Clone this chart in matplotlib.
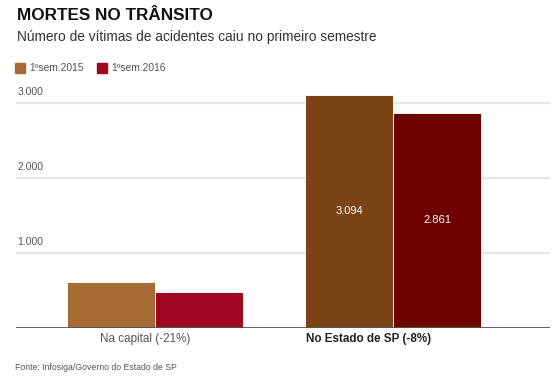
import matplotlib
matplotlib.use("Agg")
import matplotlib.pyplot as plt
from matplotlib.patches import Rectangle
import numpy as np

plt.rcParams['font.family'] = ['Liberation Sans', 'DejaVu Sans']

categories = ["Na capital (-21%)", "No Estado de SP (-8%)"]
series_names = ["1ºsem.2015", "1ºsem.2016"]
values_2015 = [607, 3094]
values_2016 = [473, 2861]
value_labels_2015 = ["", "3.094"]
value_labels_2016 = ["", "2.861"]
yticks = [1000, 2000, 3000]
ytick_labels = ["1.000", "2.000", "3.000"]

colors_2015 = ["#a66a35", "#7a4414"]
colors_2016 = ["#a00620", "#6e0000"]

W, H = 558, 380
fig = plt.figure(figsize=(W / 100, H / 100), dpi=100)

ax_left, ax_right = 15.5, 550
ax_bottom_px, ax_top_px = 327.5, 87.5
ax = fig.add_axes([ax_left / W, 1 - ax_bottom_px / H, (ax_right - ax_left) / W,
                   (ax_bottom_px - ax_top_px) / H])

x = np.arange(len(categories))
bw = 0.37
ax.bar(x - bw / 2, values_2015, width=bw, color=colors_2015, edgecolor="white", linewidth=0.6, zorder=3)
ax.bar(x + bw / 2, values_2016, width=bw, color=colors_2016, edgecolor="white", linewidth=0.6, zorder=3)

for i in range(len(categories)):
    if value_labels_2015[i]:
        ax.text(x[i] - bw / 2, values_2015[i] / 2, value_labels_2015[i], ha="center", va="center",
                color="white", fontsize=8, zorder=4)
    if value_labels_2016[i]:
        ax.text(x[i] + bw / 2, values_2016[i] / 2, value_labels_2016[i], ha="center", va="center",
                color="white", fontsize=8, zorder=4)

ax.set_xlim(-0.588, 1.658)
ax.set_ylim(0, 3200)
for t, lab in zip(yticks, ytick_labels):
    ax.axhline(t, color="#e6e6e6", linewidth=1.6, zorder=1)
    ax.annotate(lab, xy=(0, t), xycoords=("axes fraction", "data"), xytext=(1.5, 4),
                textcoords="offset points", ha="left", va="bottom", fontsize=7.5, color="#555555")
ax.axhline(0, color="#555555", linewidth=1.3, zorder=5)

for s in ax.spines.values():
    s.set_visible(False)
ax.set_xticks([])
ax.set_yticks([])
ax.patch.set_alpha(0)

# category labels
label_shift_px = [-10, -25]
for i, c in enumerate(categories):
    ax.annotate(c, xy=(x[i], 0), xycoords="data", xytext=(label_shift_px[i] * 0.72, -8.5),
                textcoords="offset points", ha="center", va="center", fontsize=8.4,
                color="#555555" if i == 0 else "#222222",
                fontweight="normal" if i == 0 else "bold")

# title & subtitle
fig.text(17 / W, 1 - 15 / H, "MORTES NO TRÂNSITO", fontsize=12.3, fontweight="bold",
         ha="left", va="center", color="#111111")
fig.text(17 / W, 1 - 37 / H, "Número de vítimas de acidentes caiu no primeiro semestre",
         fontsize=9.9, ha="left", va="center", color="#333333")

# legend
leg_x = [15, 97]
for lx, name, col in zip(leg_x, series_names, [colors_2015[0], colors_2016[0]]):
    fig.patches.append(Rectangle((lx / W, 1 - 73 / H), 10 / W, 10 / H, transform=fig.transFigure,
                                 color=col))
    fig.text((lx + 14) / W, 1 - 68 / H, name, fontsize=7.4, ha="left", va="center", color="#555555")

fig.text(15 / W, 1 - 368 / H, "Fonte: Infosiga/Governo do Estado de SP", fontsize=6.3,
         ha="left", va="center", color="#555555")

fig.savefig("out.png", dpi=100)
